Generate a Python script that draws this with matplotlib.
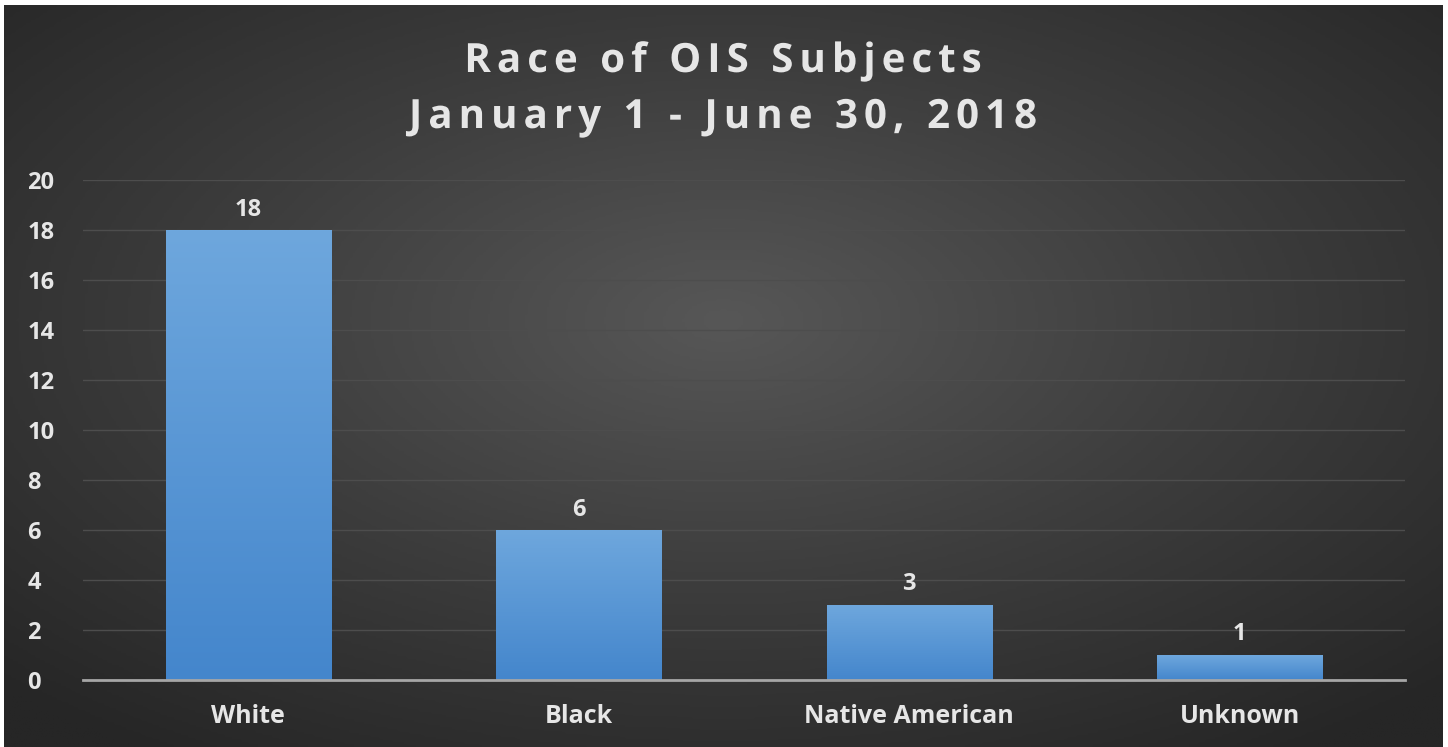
import numpy as np
import matplotlib.pyplot as plt
from matplotlib.colors import LinearSegmentedColormap
from matplotlib.font_manager import FontProperties, findfont
from matplotlib.textpath import TextPath
from matplotlib.patches import PathPatch
from matplotlib.path import Path
from matplotlib.transforms import Affine2D
from matplotlib import ft2font

categories = ["White", "Black", "Native American", "Unknown"]
counts = [18, 6, 3, 1]
yticks = [0, 2, 4, 6, 8, 10, 12, 14, 16, 18, 20]
title_lines = ["Race of OIS Subjects", "January 1 - June 30, 2018"]

W, H = 1448, 747
fig = plt.figure(figsize=(W / 100, H / 100), dpi=100)
fig.patch.set_facecolor("white")

# dark radial background panel
bg = fig.add_axes([4 / W, 0, (1442 - 4) / W, (H - 5) / H])
bg.set_axis_off()
yy, xx = np.mgrid[-1:1:300j, -1:1:600j]
r = np.sqrt(xx ** 2 + (yy + 0.15) ** 2) / np.sqrt(2)
bg_cmap = LinearSegmentedColormap.from_list("bg", ["#575757", "#3d3d3d", "#262626"])
bg.imshow(r, cmap=bg_cmap, aspect="auto", extent=[0, 1, 0, 1], vmin=0, vmax=1)

ax = fig.add_axes([83 / W, 1 - 680 / H, (1405 - 83) / W, (680 - 180) / H])
ax.patch.set_alpha(0)

fam = ["Open Sans", "DejaVu Sans"]
txt = "#e6e6e6"

x = np.arange(len(categories))
bars = ax.bar(x, counts, width=0.5, color="#5b9bd5", zorder=2)

bar_cmap = LinearSegmentedColormap.from_list("bar", ["#4486cc", "#6ea7dd"])
grad = np.linspace(0, 1, 256).reshape(-1, 1)
for b in bars:
    bx, by = b.get_x(), b.get_y()
    bw, bh = b.get_width(), b.get_height()
    im = ax.imshow(grad, cmap=bar_cmap, aspect="auto", origin="lower",
                   extent=[bx, bx + bw, by, by + bh], zorder=3)
    im.set_clip_path(b)

for xi, v in zip(x, counts):
    ax.text(xi, v + 0.58, str(v), ha="center", va="baseline", color=txt,
            fontsize=17, fontweight="bold", family=fam)

ax.set_xlim(-0.5, 3.5)
ax.set_ylim(0, 20)
ax.set_yticks(yticks)
ax.set_xticks(x)
ax.set_xticklabels(categories)
for lab in ax.get_yticklabels():
    lab.set_fontsize(17)
for lab in ax.get_xticklabels():
    lab.set_fontsize(18)
for lab in ax.get_xticklabels() + ax.get_yticklabels():
    lab.set_color(txt)
    lab.set_fontweight("bold")
    lab.set_family(fam)
ax.tick_params(axis="both", length=0)
ax.tick_params(axis="y", pad=40)
ax.tick_params(axis="x", pad=17)
for lab in ax.get_yticklabels():
    lab.set_horizontalalignment("left")

ax.grid(axis="y", color="#4d4d4d", linewidth=1, zorder=0)
ax.set_axisbelow(True)
for s in ["top", "right", "left"]:
    ax.spines[s].set_visible(False)
ax.spines["bottom"].set_color("#a6a6a6")
ax.spines["bottom"].set_linewidth(2)
ax.spines["bottom"].set_zorder(4)

# letter-spaced title, drawn glyph by glyph
title_size = 29
fp = FontProperties(family="Open Sans", weight="bold", size=title_size)
ftf = ft2font.FT2Font(findfont(fp))
ftf.set_size(title_size, 72)
track_pt = 6 * 72 / 100
baselines_px = [72, 128]
for line, base in zip(title_lines, baselines_px):
    advs = [ftf.load_char(ord(c)).linearHoriAdvance / 65536 for c in line]
    total = sum(advs) + track_pt * (len(advs) - 1)
    verts, codes = [], []
    pos = 0.0
    for c, a in zip(line, advs):
        if c != " ":
            tp = TextPath((pos, 0), c, prop=fp)
            verts.append(tp.vertices)
            codes.append(tp.codes)
        pos += a + track_pt
    path = Path(np.concatenate(verts), np.concatenate(codes))
    x0 = (W / 2 - 1) - total * 100 / 72 / 2
    tr = Affine2D().scale(100 / 72).translate(x0, H - base)
    fig.add_artist(PathPatch(path, facecolor=txt, edgecolor="none", transform=tr))

fig.savefig("out.png", dpi=100, facecolor=fig.get_facecolor())
